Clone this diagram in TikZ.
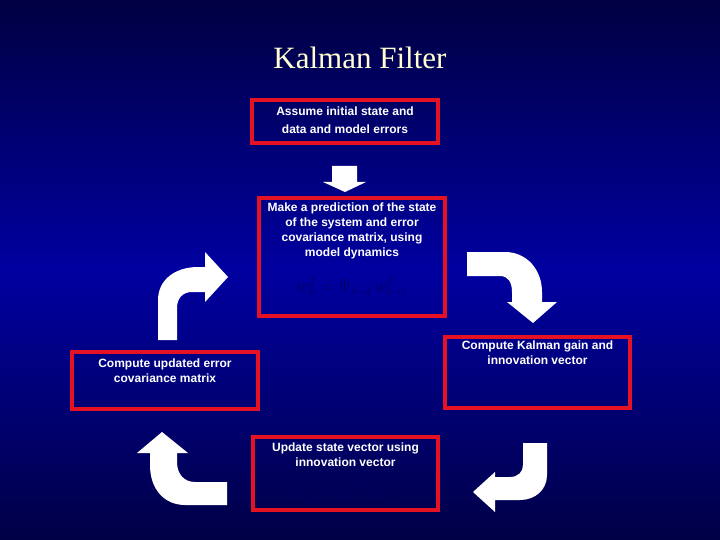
\documentclass[tikz,border=0pt]{standalone}
\usepackage{fontspec}
\setmainfont{Liberation Serif}
\newfontfamily\boxfont{Liberation Sans}
\definecolor{bgtop}{RGB}{0,0,66}
\definecolor{bgmid}{RGB}{0,0,160}
\definecolor{bgbot}{RGB}{0,0,70}
\definecolor{boxred}{RGB}{228,18,34}
\definecolor{titlecol}{RGB}{255,255,210}
\definecolor{formcol}{RGB}{0,0,95}
\tikzset{
  stagebox/.style={draw=boxred, line width=4pt, inner sep=0pt},
  stagetext/.style={text=white, font=\boxfont\bfseries\fontsize{12}{15}\selectfont, align=center, inner sep=0pt, anchor=north},
  formula/.style={text=formcol, font=\fontsize{16}{18}\selectfont, inner sep=0pt},
  blockarrow/.style={fill=white, draw=none}
}
\begin{document}
\begin{tikzpicture}[x=1pt,y=-1pt]
\useasboundingbox (0,0) rectangle (720,540);
\shade[top color=bgtop, bottom color=bgbot, middle color=bgmid] (0,0) rectangle (720,540);

% title
\node[anchor=base, text=titlecol, font=\fontsize{31}{36}\selectfont, inner sep=0pt] (title) at (360,69) {Kalman Filter};

% boxes
\node[stagebox, minimum width=186pt, minimum height=43pt] (init) at (345,121.5) {};
\node[stagebox, minimum width=186pt, minimum height=118pt] (pred) at (352,257) {};
\node[stagebox, minimum width=185pt, minimum height=71pt] (gain) at (537.5,372.5) {};
\node[stagebox, minimum width=186pt, minimum height=57pt] (cov) at (165,380.5) {};
\node[stagebox, minimum width=185pt, minimum height=73pt] (upd) at (345.5,473.5) {};

% texts
\node[stagetext, font=\boxfont\bfseries\fontsize{12}{18}\selectfont] (initt) at (345,107) {Assume initial state and\\data and model errors};
\node[stagetext] (predt) at (352,203) {Make a prediction of the state\\of the system and error\\covariance matrix, using\\model dynamics};
\node[formula] (predf) at (352,286) {$w_k^f = \Psi_{k-1}\, w_{k-1}^f$};
\node[stagetext] (gaint) at (537.5,341) {Compute Kalman gain and\\innovation vector};
\node[stagetext] (covt) at (165,359) {Compute updated error\\covariance matrix};
\node[stagetext] (updt) at (345.5,443) {Update state vector using\\innovation vector};
\node[formula] (updf) at (345.5,493) {$w_k^a = w_k^f + w_k^i$};

% block arrows
% down arrow under first box
\fill[blockarrow] (332,166) -- (357,166) -- (357,182) -- (366,182) -- (345,192) -- (323,182) -- (332,182) -- cycle;
% top-left: up then right
\fill[blockarrow] (158,340) -- (158,300) .. controls (158,280) and (175,267) .. (198,267)
  -- (205,267) -- (205,252) -- (228,277) -- (205,302) -- (205,292) -- (192,292)
  .. controls (183,292) and (177,298) .. (177,308) -- (177,340) -- cycle;
% top-right: right then down
\fill[blockarrow] (467,252) -- (505,252) .. controls (527,252) and (542,270) .. (542,292)
  -- (542,302) -- (557,302) -- (533,323) -- (507,302) -- (512,302) -- (512,292)
  .. controls (512,282) and (508,276) .. (500,276) -- (467,276) -- cycle;
% bottom-right: down then left
\fill[blockarrow] (523,443) -- (547,443) -- (547,475) .. controls (547,490) and (535,500) .. (520,500)
  -- (495,500) -- (495,512) -- (473,492) -- (495,472) -- (495,477) -- (510,477)
  .. controls (518,477) and (523,472) .. (523,465) -- cycle;
% bottom-left: left then up
\fill[blockarrow] (227,482) -- (195,482) .. controls (184,482) and (177,474) .. (177,462)
  -- (177,453) -- (188,453) -- (162,432) -- (137,453) -- (150,453) -- (150,465)
  .. controls (150,490) and (165,505) .. (185,505) -- (227,505) -- cycle;
\end{tikzpicture}
\end{document}
